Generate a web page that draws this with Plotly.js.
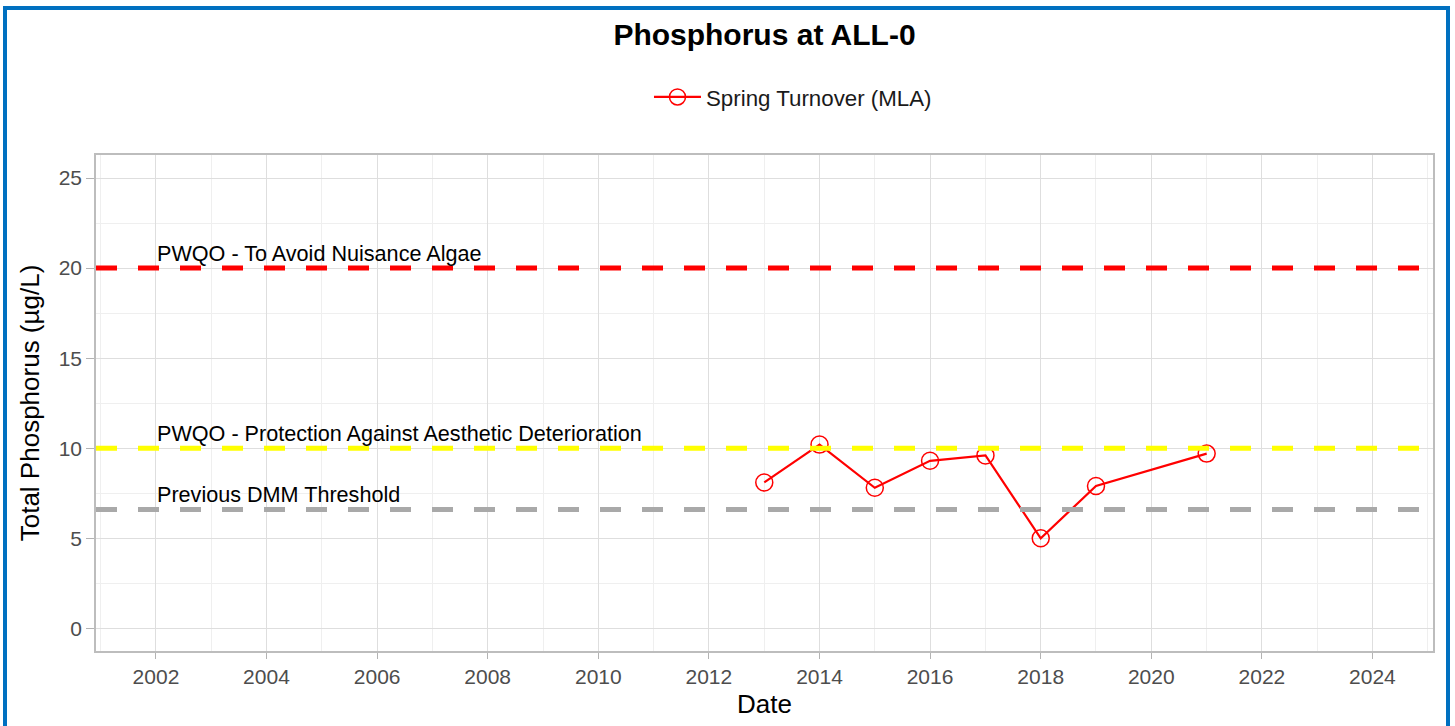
<!DOCTYPE html>
<html><head><meta charset="utf-8">
<script src="https://cdn.plot.ly/plotly-3.0.1.min.js"></script>
<style>
html,body{margin:0;padding:0;background:#fff;overflow:hidden}
#chart{width:1455px;height:726px}
#frame{position:absolute;left:3px;top:6px;width:1447px;height:760px;border:4px solid #0070C0;box-sizing:border-box;pointer-events:none}
</style></head><body>
<div id="chart"></div><div id="frame"></div>
<script>
// Data
const sampleDates = ['2013-01-01','2014-01-01','2015-01-01','2016-01-01','2017-01-01','2018-01-01','2019-01-01','2021-01-01'];
const phosphorus = [8.1, 10.2, 7.8, 9.3, 9.6, 5.0, 7.9, 9.7];
const seriesName = 'Spring Turnover (MLA)';
const thresholdValues = [20, 10, 6.6];
const thresholdLabels = ['PWQO - To Avoid Nuisance Algae', 'PWQO - Protection Against Aesthetic Deterioration', 'Previous DMM Threshold'];
const thresholdColors = ['#FF0000', '#FFFF00', '#A9A9A9'];
const labelDate = '2002-01-01';

const FONT = '"Liberation Sans", Arial, Helvetica, sans-serif';

const trace = {
  x: sampleDates, y: phosphorus, name: seriesName,
  type: 'scatter', mode: 'lines+markers',
  line: {color: '#FF0000', width: 2.2},
  marker: {symbol: 'circle-open', size: 17, color: '#FF0000', line: {width: 1.5, color: '#FF0000'}}
};

const shapes = thresholdValues.map((v, i) => ({
  type: 'line', xref: 'paper', x0: 0, x1: 1, yref: 'y', y0: v, y1: v,
  line: {color: thresholdColors[i], width: 5, dash: '21px,21px'}, layer: 'above'
}));

const annotations = thresholdValues.map((v, i) => ({
  x: labelDate, y: v, xref: 'x', yref: 'y', text: thresholdLabels[i],
  showarrow: false, xanchor: 'left', yanchor: 'middle', yshift: 15, xshift: -1,
  font: {family: FONT, size: 21.6, color: '#000000'}
}));

const layout = {
  width: 1455, height: 726,
  margin: {l: 96, r: 22, t: 155, b: 75},
  paper_bgcolor: '#ffffff', plot_bgcolor: '#ffffff',
  font: {family: FONT},
  title: {text: 'Phosphorus at ALL-0', x: 0.5, xref: 'paper', xanchor: 'center', y: 0.953, yanchor: 'middle',
    font: {family: FONT, size: 30, color: '#000000', weight: 700}},
  showlegend: true,
  legend: {orientation: 'h', x: 0.4136, xanchor: 'left', y: 1.117, yanchor: 'middle', itemwidth: 47,
    font: {family: FONT, size: 22.3, color: '#1A1A1A'}, bgcolor: 'rgba(0,0,0,0)'},
  xaxis: {
    type: 'date', range: ['2000-12-01', '2025-02-04'],
    tick0: '2002-01-01', dtick: 'M24', tickformat: '%Y',
    showgrid: true, gridcolor: '#DEDEDE', gridwidth: 1.3,
    minor: {dtick: 'M12', tick0: '2001-01-01', showgrid: true, gridcolor: '#EFEFEF', gridwidth: 1},
    ticks: 'outside', ticklen: 6, tickcolor: '#B3B3B3', tickwidth: 1.2,
    tickfont: {family: FONT, size: 21, color: '#4D4D4D'},
    showline: true, mirror: true, linecolor: '#BDBDBD', linewidth: 1.5,
    zeroline: false, automargin: false,
    title: {text: 'Date', font: {family: FONT, size: 26, color: '#000000'}, standoff: 8}
  },
  yaxis: {
    range: [-1.26, 26.28], tick0: 0, dtick: 5,
    showgrid: true, gridcolor: '#DEDEDE', gridwidth: 1.3,
    minor: {dtick: 2.5, tick0: 0, showgrid: true, gridcolor: '#EFEFEF', gridwidth: 1},
    ticks: 'outside', ticklen: 8, tickcolor: '#B3B3B3', tickwidth: 1.2,
    tickfont: {family: FONT, size: 21, color: '#4D4D4D'},
    showline: true, mirror: true, linecolor: '#BDBDBD', linewidth: 1.5,
    zeroline: false, automargin: false,
    title: {text: 'Total Phosphorus (µg/L)', font: {family: FONT, size: 26, color: '#000000'}, standoff: 12}
  },
  shapes: shapes,
  annotations: annotations
};

Plotly.newPlot('chart', [trace], layout, {displayModeBar: false, responsive: false});
</script>
</body></html>
